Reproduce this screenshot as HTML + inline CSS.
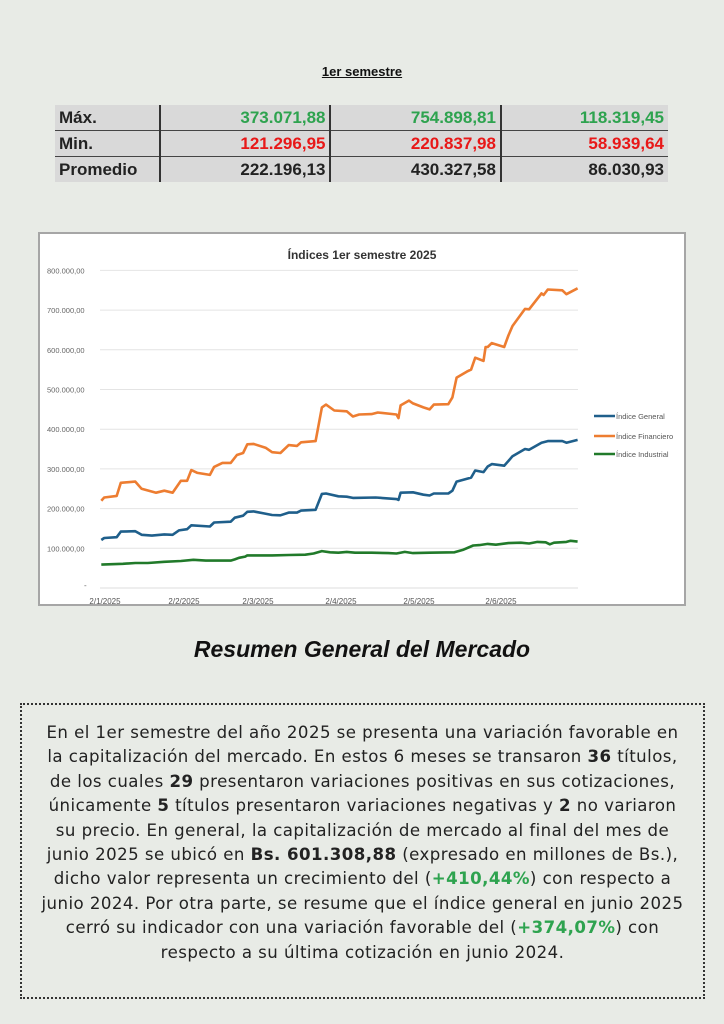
<!DOCTYPE html>
<html><head><meta charset="utf-8"><style>
body{margin:0;width:724px;height:1024px;background:#e8ebe6;font-family:"Liberation Sans",sans-serif;position:relative;overflow:hidden}
.t1{position:absolute;top:64px;left:0;width:724px;text-align:center;font-size:13px;font-weight:bold;text-decoration:underline;color:#111}
table{position:absolute;left:55px;top:105px;width:613px;border-collapse:collapse;font-family:"Liberation Sans Narrow","Liberation Sans",sans-serif;font-weight:bold;font-size:17px;background:#d9d9d9}
td{height:25px;padding:0 4px;border-bottom:1.5px solid #444;text-align:right;border-left:2px solid #333}
td:first-child{text-align:left;border-left:none;width:96px;color:#222}
tr:last-child td{border-bottom:none}
.g{color:#2ea34f}.r{color:#e81818}.k{color:#222}
.chart{position:absolute;left:38px;top:232px;width:644px;height:370px;background:#fff;border:2px solid #a6a6a6}
h2{position:absolute;top:636px;left:0;width:724px;text-align:center;margin:0;font-size:23px;font-style:italic;font-weight:bold;color:#111}
.box{position:absolute;left:20px;top:703px;width:681px;height:292px;border:2px dotted #333}
.txt{position:absolute;left:0;top:16px;width:681px;text-align:center;font-family:"DejaVu Sans",sans-serif;font-size:16.6px;letter-spacing:0.45px;line-height:24.4px;color:#222;white-space:nowrap}
.gr{color:#2ea34f;font-weight:bold}
</style></head><body>
<div class="t1">1er semestre</div>
<table>
<tr><td>Máx.</td><td class="g">373.071,88</td><td class="g">754.898,81</td><td class="g">118.319,45</td></tr>
<tr><td>Min.</td><td class="r">121.296,95</td><td class="r">220.837,98</td><td class="r">58.939,64</td></tr>
<tr><td>Promedio</td><td class="k">222.196,13</td><td class="k">430.327,58</td><td class="k">86.030,93</td></tr>
</table>
<div class="chart"><svg id="s" width="644" height="370" viewBox="38 232 644 370" style="font-family:'Liberation Sans',sans-serif"></svg></div>
<h2>Resumen General del Mercado</h2>
<div class="box"><div class="txt">
En el 1er semestre del año 2025 se presenta una variación favorable en<br>
la capitalización del mercado. En estos 6 meses se transaron <b>36</b> títulos,<br>
de los cuales <b>29</b> presentaron variaciones positivas en sus cotizaciones,<br>
únicamente <b>5</b> títulos presentaron variaciones negativas y <b>2</b> no variaron<br>
su precio. En general, la capitalización de mercado al final del mes de<br>
junio 2025 se ubicó en <b>Bs. 601.308,88</b> (expresado en millones de Bs.),<br>
dicho valor representa un crecimiento del (<span class="gr">+410,44%</span>) con respecto a<br>
junio 2024. Por otra parte, se resume que el índice general en junio 2025<br>
cerró su indicador con una variación favorable del (<span class="gr">+374,07%</span>) con<br>
respecto a su última cotización en junio 2024.
</div></div>
<script>
var s=document.getElementById('s'),h='';
function Y(v){return 586-v*0.397}
function X(z){return 38+z*0.4145}
h+='<text x="360" y="257" text-anchor="middle" font-size="12" font-weight="bold" fill="#333">Índices 1er semestre 2025</text>';
for(var i=1;i<=8;i++){var y=Y(i*100);h+='<line x1="98" x2="576" y1="'+y+'" y2="'+y+'" stroke="#e4e4e4" stroke-width="1"/>';h+='<text x="45" y="'+(y+3)+'" font-size="7.5" fill="#666">'+i+'00.000,00</text>';}
h+='<line x1="98" x2="576" y1="586" y2="586" stroke="#ddd"/><text x="82" y="586" font-size="8" fill="#666">-</text>';
var xl=[[103,'2/1/2025'],[182,'2/2/2025'],[256,'2/3/2025'],[339,'2/4/2025'],[417,'2/5/2025'],[499,'2/6/2025']];
xl.forEach(function(a){h+='<text x="'+a[0]+'" y="602" text-anchor="middle" font-size="8" fill="#555">'+a[1]+'</text>'});
var O=[148,220,155,228,185,232,195,265,230,268,245,250,280,240,300,245,320,240,340,270,355,270,365,297,380,290,410,285,420,305,440,315,460,315,475,335,490,340,500,362,515,363,545,353,560,342,580,340,600,360,620,358,630,367,665,370,680,455,690,462,710,447,740,445,755,432,770,437,800,438,815,442,860,437,865,428,870,460,890,472,900,465,925,455,940,450,950,462,985,463,995,480,1005,530,1030,545,1040,550,1050,580,1070,572,1075,607,1080,607,1090,617,1120,607,1130,636,1140,660,1170,703,1180,702,1210,742,1215,738,1225,752,1260,750,1270,740,1297,755];
var B=[148,121,155,126,185,128,195,142,230,143,245,134,270,132,300,135,320,134,335,145,355,148,365,158,410,155,420,165,460,167,470,177,490,182,500,192,515,193,540,188,560,184,580,183,600,190,620,190,630,195,665,197,680,237,690,238,720,231,740,230,755,227,810,228,860,224,865,222,870,240,900,241,925,235,940,233,950,238,985,238,995,245,1005,268,1040,278,1050,296,1070,292,1080,306,1090,312,1120,308,1130,320,1140,332,1170,350,1180,348,1210,366,1225,370,1260,370,1270,366,1297,373];
var G=[148,59,200,61,230,63,260,63,300,66,340,68,370,71,400,69,460,69,470,72,480,76,495,79,500,82,520,82,560,82,600,83,640,84,660,87,680,93,700,90,720,89,740,91,760,89,800,89,840,88,860,87,880,91,900,88,940,89,1000,90,1020,96,1045,107,1060,108,1080,111,1100,109,1130,113,1160,114,1180,112,1200,116,1220,115,1230,110,1240,114,1270,116,1280,119,1297,117];
function P(a,c){var p=[];for(var i=0;i<a.length;i+=2)p.push(X(a[i]).toFixed(1)+','+Y(a[i+1]).toFixed(1));h+='<polyline points="'+p.join(' ')+'" fill="none" stroke="'+c+'" stroke-width="2.6" stroke-linejoin="round"/>';}
P(O,'#ed7d31');P(B,'#1f5f8b');P(G,'#217a2a');
[['#1f5f8b','Índice General',414],['#ed7d31','Índice Financiero',434],['#217a2a','Índice Industrial',452]].forEach(function(l){h+='<line x1="592" x2="613" y1="'+l[2]+'" y2="'+l[2]+'" stroke="'+l[0]+'" stroke-width="2.6"/><text x="614" y="'+(l[2]+3)+'" font-size="7.5" fill="#555">'+l[1]+'</text>'});
s.innerHTML=h;
</script>
</body></html>
